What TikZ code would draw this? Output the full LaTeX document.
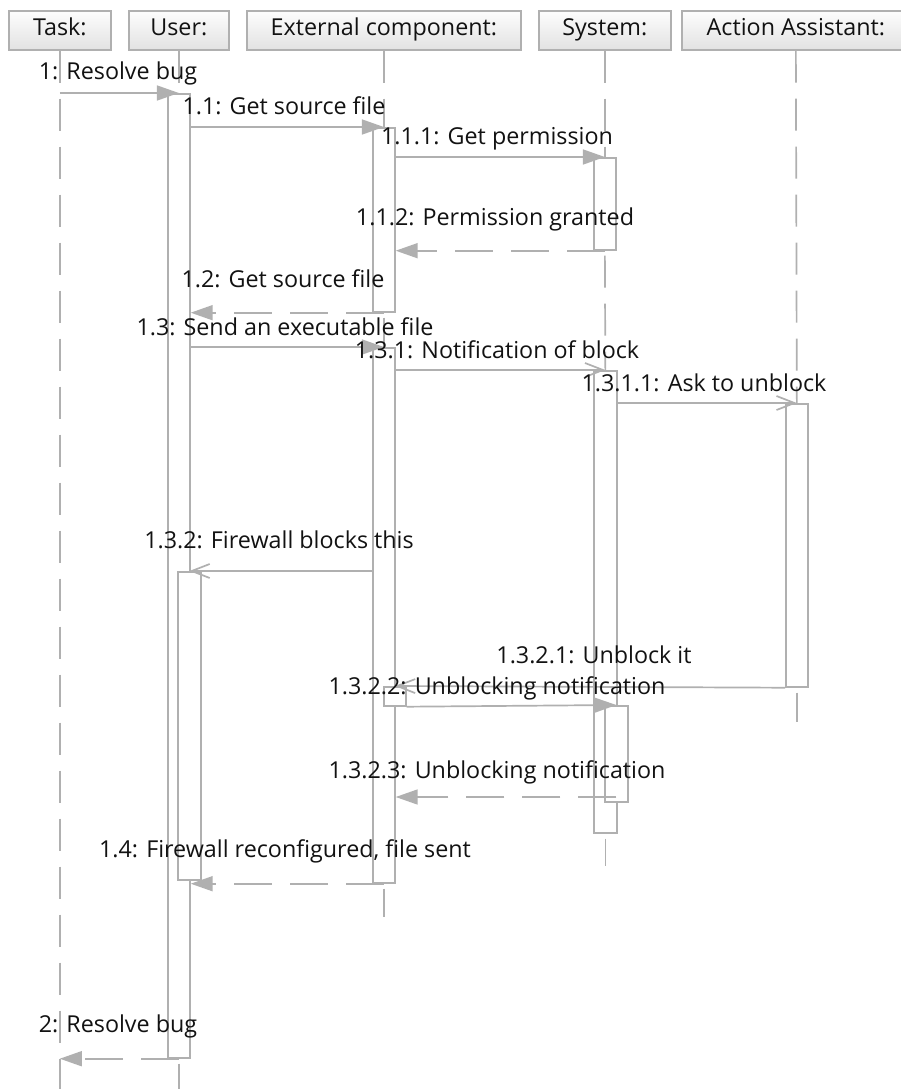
\documentclass[tikz,border=0pt]{standalone}
\usepackage{fontspec}
\setmainfont{Open Sans}
\usetikzlibrary{arrows.meta}
\definecolor{linegray}{RGB}{176,176,176}
\definecolor{inkgray}{RGB}{18,18,18}
\definecolor{headtop}{RGB}{253,253,253}
\definecolor{headbot}{RGB}{226,226,226}
\begin{document}
\begin{tikzpicture}[x=1pt,y=-1pt,
  font=\fontsize{23.3}{28}\selectfont,
  head/.style={draw=linegray, line width=1.7pt, top color=headtop, bottom color=headbot,
    minimum height=39pt, anchor=north west, inner sep=0pt, text=inkgray,
    text height=17pt, text depth=6pt},
  lifeline/.style={draw=linegray, line width=1.7pt, dash pattern=on 32pt off 16pt},
  after/.style={dash phase=43pt},
  bar/.style={draw=linegray, fill=white, line width=1.7pt, anchor=north west, inner sep=0pt},
  call/.style={draw=linegray, line width=1.7pt,
    -{Triangle[length=22pt,width=15pt,fill=linegray]}},
  async/.style={draw=linegray, line width=1.7pt,
    -{Straight Barb[length=18pt,width=14pt,line width=1.7pt]}},
  reply/.style={draw=linegray, line width=1.7pt, dash pattern=on 38pt off 18pt,
    -{Triangle[length=22pt,width=15pt,fill=linegray]}},
  lbl/.style={anchor=base, inner sep=0pt, text=inkgray}]

\useasboundingbox (0,0) rectangle (900,1089);
\fill[white] (0,0) rectangle (900,1089);

% lifeline heads
\node[head, minimum width=102pt] (task) at (8,10) {Task:};
\node[head, minimum width=100pt] (user) at (128,10) {User:};
\node[head, minimum width=274pt] (ext)  at (246,10) {External component:};
\node[head, minimum width=132pt] (sys)  at (538,10) {System:};
\node[head, minimum width=228pt] (aa)   at (681,10) {Action Assistant:};

% activation bars
\node[bar, minimum width=22pt, minimum height=964pt] (ub1) at (167,93)  {};
\node[bar, minimum width=22pt, minimum height=184pt] (eb1) at (372,127) {};
\node[bar, minimum width=22pt, minimum height=92pt]  (sb1) at (593,157) {};
\node[bar, minimum width=22pt, minimum height=535pt] (eb2) at (372,347) {};
\node[bar, minimum width=23pt, minimum height=462pt] (sb2) at (593,370) {};
\node[bar, minimum width=22pt, minimum height=283pt] (ab1) at (785,403) {};
\node[bar, minimum width=23pt, minimum height=308pt] (ub2) at (177,571) {};
\node[bar, minimum width=22pt, minimum height=19pt]  (eb3) at (383,686) {};
\node[bar, minimum width=23pt, minimum height=96pt]  (sb3) at (604,705) {};

% where each lifeline stops
\coordinate (endT) at (0,1089);
\coordinate (endU) at (0,1089);
\coordinate (endE) at (0,917);
\coordinate (endS) at (0,866);
\coordinate (endA) at (0,722);

% lifelines, restarted below each activation
\draw[lifeline] (task.south) -- (task.south |- endT);
\draw[lifeline] (user.south) -- (ub1.north);
\draw[lifeline, after] (ub1.south) -- (ub1.south |- endU);
\draw[lifeline] (ext.south) -- (eb1.north);
\draw[lifeline, after] (eb1.south) -- (eb2.north);
\draw[lifeline, after] (eb2.south) -- (eb2.south |- endE);
\draw[lifeline] (sys.south) -- (sb1.north);
\draw[lifeline, after] (sb1.south) -- (sb2.north);
\draw[lifeline, after] (sb2.south) -- (sb2.south |- endS);
\draw[lifeline] (aa.south) -- (ab1.north);
\draw[lifeline, after] (ab1.south) -- (ab1.south |- endA);

% message rows not fixed by a bar edge
\coordinate (r1)  at (0,93);
\coordinate (r2)  at (0,127);
\coordinate (r3)  at (0,157);
\coordinate (r13) at (0,797);

% messages
\draw[call]  (task.south |- r1) -- (ub1.north);
\draw[call]  (ub1.east |- r2) -- (eb1.north);
\draw[call]  (eb1.east |- r3) -- (sb1.north);
\draw[reply] (sb1.south) -- (eb1.east |- sb1.south);
\draw[reply] (eb1.south) -- (ub1.east |- eb1.south);
\draw[call]  (ub1.east |- eb2.north) -- (eb2.north);
\draw[async] (eb2.east |- sb2.north) -- (sb2.north);
\draw[async] (sb2.east |- ab1.north) -- (ab1.north);
\draw[async] (eb2.west |- ub2.north) -- (ub2.north);
\draw[async] (ab1.south west) -- (eb3.north);
\draw[call]  (eb3.south east) -- (sb3.north);
\draw[reply] (sb3.north |- r13) -- (eb2.east |- r13);
\draw[reply] (eb2.south) -- (ub1.east |- eb2.south);
\draw[reply] (ub1.south) -- (task.south |- ub1.south);

% message labels
\node[lbl] (l1)    at (118,80)   {1: Resolve bug};
\node[lbl] (l11)   at (284,115)  {1.1: Get source file};
\node[lbl] (l111)  at (497,145)  {1.1.1: Get permission};
\node[lbl] (l112)  at (495,225)  {1.1.2: Permission granted};
\node[lbl] (l12)   at (283,287)  {1.2: Get source file};
\node[lbl] (l13)   at (285,335)  {1.3: Send an executable file};
\node[lbl] (l131)  at (497,358)  {1.3.1: Notification of block};
\node[lbl] (l1311) at (704,391)  {1.3.1.1: Ask to unblock};
\node[lbl] (l132)  at (279,548)  {1.3.2: Firewall blocks this};
\node[lbl] (l1321) at (594,663)  {1.3.2.1: Unblock it};
\node[lbl] (l1322) at (497,694)  {1.3.2.2: Unblocking notification};
\node[lbl] (l1323) at (497,778)  {1.3.2.3: Unblocking notification};
\node[lbl] (l14)   at (285,857)  {1.4: Firewall reconfigured, file sent};
\node[lbl] (l2)    at (118,1032) {2: Resolve bug};
\end{tikzpicture}
\end{document}
